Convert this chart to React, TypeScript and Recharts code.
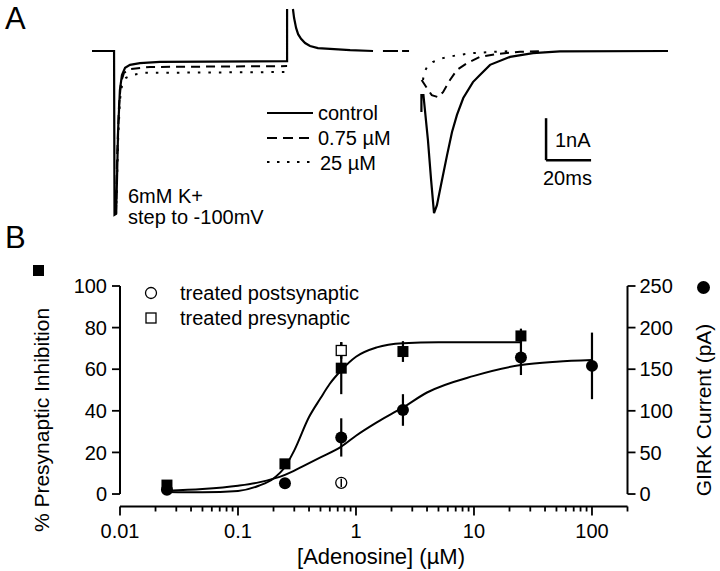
import React from 'react'
import { LineChart, Line, XAxis, YAxis, ReferenceLine, ComposedChart, Scatter, ErrorBar } from 'recharts'

const FONT = '"Liberation Sans", Arial, sans-serif'

// Panel A: whole-cell currents, [time (ms), current (nA)]; null = blanked part of the sweep
const CONTROL_TRACE: [number, number | null][] = [
  [0, 0], [9.8, 0], [10.0, -3.9], [10.7, -3.88], [11.1, -3.07], [11.6, -1.88], [12.4, -0.93],
  [13.3, -0.57], [14.7, -0.4], [16.9, -0.33], [21.3, -0.29], [30.2, -0.26], [86.7, -0.24],
  [86.7, 1.0], [88, null], [89.3, 1.0], [89.8, 0.79], [90.7, 0.55], [91.6, 0.4], [92.9, 0.29],
  [94.7, 0.19], [96.9, 0.12], [100.4, 0.07], [105.8, 0.05], [114.7, 0.02], [124.9, 0],
  [127, null], [129.3, 0], [136.0, 0], [137, null], [137.8, 0], [140.9, 0], [143, null],
  [146.4, -1.45], [146.4, -1.05], [147.3, -1.05], [149.3, -2.12], [150.7, -3.07], [152.0, -3.86],
  [153.3, -3.67], [155.1, -3.19], [157.8, -2.48], [160.0, -1.93], [162.2, -1.52], [165.0, -1.12],
  [169.3, -0.74], [172.4, -0.57], [176.9, -0.33], [185.8, -0.14], [196.0, -0.05], [208.0, -0.01],
  [256.0, 0],
]
const ADO_075_TRACE: [number, number | null][] = [
  [10.7, -3.88], [11.1, -2.6], [12.0, -1.29], [12.9, -0.74], [14.2, -0.52], [16.9, -0.43],
  [25.8, -0.38], [86.7, -0.36], [100, null], [146.5, -0.69], [148.8, -0.88], [151.0, -1.05],
  [153.8, -1.1], [156.0, -0.98], [159.1, -0.69], [162.2, -0.45], [166.7, -0.29], [172.4, -0.14],
  [180.0, -0.07], [190.2, -0.02], [201.3, 0],
]
const ADO_25_TRACE: [number, number | null][] = [
  [10.7, -3.88], [11.6, -2.12], [12.4, -1.17], [13.3, -0.83], [15.1, -0.64], [17.8, -0.57],
  [23.6, -0.52], [86.7, -0.5], [100, null], [147.1, -0.69], [147.6, -0.52], [148.9, -0.38],
  [151.6, -0.26], [156.0, -0.17], [162.2, -0.1], [169.3, -0.05], [178.2, -0.02], [188.0, 0],
]
// scale bar: 20 ms x 1 nA
const SCALE_T = 201.8
const SCALE_I = -2.6

// Panel B: dose response
const PRE_CONC = [0.025, 0.25, 0.75, 2.5, 25]
const PRE_INHIB = [4.3, 14.5, 60.5, 68.5, 76]
const PRE_ERR = [1.5, 2, 12.5, 5, 3.5]
const GIRK_CONC = [0.025, 0.25, 0.75, 2.5, 25, 100]
const GIRK_PA = [5, 13, 68, 101, 164, 154]
const GIRK_ERR = [0, 0, 23, 19, 21, 40]
const TREATED_PRE = { x: 0.75, y: 69, err: 4 }
const TREATED_POST = { x: 0.75, y: 13.5, err: 5 }

const FIT_PRE_X = [0.025, 0.05, 0.1, 0.15, 0.2, 0.25, 0.3, 0.4, 0.5, 0.6, 0.75, 1, 1.5, 2.5, 5, 25]
const FIT_PRE_Y = [1.0, 0.8, 1.5, 4, 7.5, 13, 21, 37, 46, 53, 59.5, 66, 70.5, 72.5, 73, 73]
const FIT_GIRK_X = [0.025, 0.05, 0.1, 0.15, 0.25, 0.35, 0.5, 0.75, 1, 1.5, 2.5, 4, 10, 25, 50, 100]
const FIT_GIRK_Y = [4, 6, 10, 14, 23, 33, 44, 57, 70, 86, 104, 122, 142, 155, 159, 161]

const MAJOR_TICKS = [0.01, 0.1, 1, 10, 100]
const X_TICKS = [
  0.01, 0.02, 0.03, 0.04, 0.05, 0.06, 0.07, 0.08, 0.09,
  0.1, 0.2, 0.3, 0.4, 0.5, 0.6, 0.7, 0.8, 0.9,
  1, 2, 3, 4, 5, 6, 7, 8, 9,
  10, 20, 30, 40, 50, 60, 70, 80, 90,
  100, 200,
]
const LEFT_TICKS = [0, 20, 40, 60, 80, 100]
const RIGHT_TICKS = [0, 50, 100, 150, 200, 250]

const toRows = (pts: [number, number | null][]) => pts.map(([t, v]) => ({ t, v }))
const zipXY = (xs: number[], ys: number[], errs?: number[]) =>
  xs.map((x, i) => ({ x, y: ys[i], err: errs ? errs[i] : 0 }))

const LogTick = ({ x, y, payload }: any) => {
  const major = MAJOR_TICKS.includes(payload.value)
  return (
    <g>
      <line x1={x} x2={x} y1={y} y2={y + (major ? 9 : 5)} stroke="#000" strokeWidth={1.8} />
      {major && (
        <text x={x} y={y + 31} textAnchor="middle" fontSize={20} fontFamily={FONT} fill="#000">
          {payload.value}
        </text>
      )}
    </g>
  )
}

const filledSquare = (p: any) => <rect x={p.cx - 5.5} y={p.cy - 5.5} width={11} height={11} fill="#000" />
const openSquare = (p: any) => <rect x={p.cx - 5} y={p.cy - 5} width={10} height={10} fill="#fff" stroke="#000" strokeWidth={1.3} />
const filledCircle = (p: any) => <circle cx={p.cx} cy={p.cy} r={6} fill="#000" />
const openCircle = (p: any) => <circle cx={p.cx} cy={p.cy} r={5.5} fill="none" stroke="#000" strokeWidth={1.3} />

const tickStyle = { fill: '#000', fontSize: 20, fontFamily: FONT }

function PanelA() {
  return (
    <LineChart width={720} height={230} margin={{ top: 0, right: 0, bottom: 0, left: 0 }}>
      <XAxis hide type="number" dataKey="t" domain={[-40.89, 279.1]} allowDataOverflow />
      <YAxis hide type="number" domain={[-4.262, 1.214]} allowDataOverflow />
      <Line data={toRows(ADO_25_TRACE)} dataKey="v" stroke="#000" strokeWidth={2} strokeDasharray="2.5 8"
        dot={false} activeDot={false} type="linear" isAnimationActive={false} />
      <Line data={toRows(ADO_075_TRACE)} dataKey="v" stroke="#000" strokeWidth={2} strokeDasharray="9 6"
        dot={false} activeDot={false} type="linear" isAnimationActive={false} />
      <Line data={toRows(CONTROL_TRACE)} dataKey="v" stroke="#000" strokeWidth={2.2}
        dot={false} activeDot={false} type="linear" isAnimationActive={false} />
      <ReferenceLine segment={[{ x: SCALE_T, y: SCALE_I }, { x: SCALE_T, y: SCALE_I + 1 }]} stroke="#000" strokeWidth={2.5} ifOverflow="visible" />
      <ReferenceLine segment={[{ x: SCALE_T, y: SCALE_I }, { x: SCALE_T + 20, y: SCALE_I }]} stroke="#000" strokeWidth={2.5} ifOverflow="visible" />
    </LineChart>
  )
}

function PanelB() {
  return (
    <ComposedChart width={720} height={341} margin={{ top: 56, right: 0, bottom: 24.5, left: 0 }}>
      <XAxis type="number" dataKey="x" scale="log" domain={[0.01, 200]} allowDataOverflow ticks={X_TICKS}
        interval={0} tickSize={0} tickMargin={0} tick={<LogTick />} height={40}
        axisLine={{ stroke: '#000', strokeWidth: 2 }} />
      <YAxis yAxisId="left" dataKey="y" type="number" domain={[-6, 100]} allowDataOverflow ticks={LEFT_TICKS}
        width={120} axisLine={false} tickSize={8} tickMargin={5} tick={tickStyle}
        tickLine={{ stroke: '#000', strokeWidth: 1.8 }} />
      <YAxis yAxisId="right" orientation="right" dataKey="y" type="number" domain={[-15, 250]} allowDataOverflow
        ticks={RIGHT_TICKS} width={92.5} axisLine={false} tickSize={8} tickMargin={4} tick={tickStyle}
        tickLine={{ stroke: '#000', strokeWidth: 1.8 }} />
      <ReferenceLine yAxisId="left" segment={[{ x: 0.01, y: 0 }, { x: 0.01, y: 100 }]} stroke="#000" strokeWidth={2} ifOverflow="visible" />
      <ReferenceLine yAxisId="right" segment={[{ x: 200, y: 0 }, { x: 200, y: 250 }]} stroke="#000" strokeWidth={2} ifOverflow="visible" />
      <Line yAxisId="left" data={zipXY(FIT_PRE_X, FIT_PRE_Y)} dataKey="y" type="monotone" stroke="#000" strokeWidth={2}
        dot={false} activeDot={false} isAnimationActive={false} />
      <Line yAxisId="right" data={zipXY(FIT_GIRK_X, FIT_GIRK_Y)} dataKey="y" type="monotone" stroke="#000" strokeWidth={2}
        dot={false} activeDot={false} isAnimationActive={false} />
      <Scatter yAxisId="right" data={zipXY(GIRK_CONC, GIRK_PA, GIRK_ERR)} dataKey="y" shape={filledCircle} isAnimationActive={false}>
        <ErrorBar dataKey="err" direction="y" width={0} stroke="#000" strokeWidth={2.2} />
      </Scatter>
      <Scatter yAxisId="left" data={zipXY(PRE_CONC, PRE_INHIB, PRE_ERR)} dataKey="y" shape={filledSquare} isAnimationActive={false}>
        <ErrorBar dataKey="err" direction="y" width={0} stroke="#000" strokeWidth={2.2} />
      </Scatter>
      <Scatter yAxisId="left" data={[TREATED_PRE]} dataKey="y" shape={openSquare} isAnimationActive={false}>
        <ErrorBar dataKey="err" direction="y" width={0} stroke="#000" strokeWidth={2.2} />
      </Scatter>
      <Scatter yAxisId="right" data={[TREATED_POST]} dataKey="y" shape={openCircle} isAnimationActive={false}>
        <ErrorBar dataKey="err" direction="y" width={0} stroke="#000" strokeWidth={1.5} />
      </Scatter>
    </ComposedChart>
  )
}

export default function App() {
  return (
    <div style={{ position: 'absolute', left: 0, top: 0, width: 720, height: 571, background: '#fff', fontFamily: FONT }}>
      <div style={{ position: 'absolute', left: 0, top: 0 }}>
        <PanelA />
      </div>
      <div style={{ position: 'absolute', left: 0, top: 230 }}>
        <PanelB />
      </div>
      <svg width={720} height={571} style={{ position: 'absolute', left: 0, top: 0, pointerEvents: 'none' }}
        fontFamily={FONT} fill="#000">
        <text x={5} y={29} fontSize={31}>A</text>
        <text x={5} y={248} fontSize={31}>B</text>

        {/* panel A legend */}
        <line x1={267} x2={313} y1={113} y2={113} stroke="#000" strokeWidth={2} />
        <line x1={267} x2={313} y1={138} y2={138} stroke="#000" strokeWidth={2} strokeDasharray="10 6" />
        <line x1={267} x2={313} y1={162} y2={162} stroke="#000" strokeWidth={2} strokeDasharray="2.5 7.5" />
        <text x={318} y={120} fontSize={20}>control</text>
        <text x={318} y={145} fontSize={20}>0.75 µM</text>
        <text x={320} y={170} fontSize={20}>25 µM</text>
        <text x={128} y={203} fontSize={20}>6mM K+</text>
        <text x={128} y={224} fontSize={20}>step to -100mV</text>
        <text x={555} y={147} fontSize={20}>1nA</text>
        <text x={543} y={185} fontSize={20}>20ms</text>

        {/* panel B annotations */}
        <rect x={33} y={265} width={11} height={11} fill="#000" />
        <circle cx={703.5} cy={287.5} r={6.5} fill="#000" />
        <circle cx={151} cy={293} r={5.5} fill="none" stroke="#000" strokeWidth={1.3} />
        <rect x={146} y={313} width={10} height={10} fill="none" stroke="#000" strokeWidth={1.3} />
        <text x={180} y={300} fontSize={20}>treated postsynaptic</text>
        <text x={180} y={325} fontSize={20}>treated presynaptic</text>
        <text x={381} y={564} fontSize={22} textAnchor="middle">[Adenosine] (µM)</text>
        <text transform="translate(49,420) rotate(-90)" fontSize={21} textAnchor="middle">% Presynaptic Inhibition</text>
        <text transform="translate(711,410) rotate(-90)" fontSize={21} textAnchor="middle">GIRK Current (pA)</text>
      </svg>
    </div>
  )
}
